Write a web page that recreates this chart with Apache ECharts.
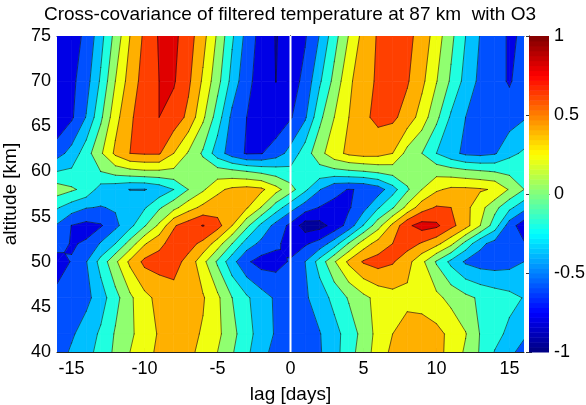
<!DOCTYPE html>
<html><head><meta charset="utf-8">
<style>html,body{margin:0;padding:0;background:#fff}#c{width:586px;height:405px}</style>
<script src="https://cdn.jsdelivr.net/npm/echarts@6/dist/echarts.min.js"></script>
</head><body><div id="c"></div>
<script>
const titleText = 'Cross-covariance of filtered temperature at 87 km  with O3';
const lags = [-16,-15,-14,-13,-12,-11,-10,-9,-8,-7,-6,-5,-4,-3,-2,-1,0,1,2,3,4,5,6,7,8,9,10,11,12,13,14,15,16];
const altitudes = [40,42,46,50,52,54,56,58,60,62,66,70,75];
const z40 = [-.5,-.37,-.27,-.13,.04,.2,.33,.44,.5,.45,.34,.2,.02,-.16,-.33,-.47,-.5,-.46,-.42,-.27,-.09,.11,.28,.45,.5,.52,.47,.33,.17,-.02,-.21,-.34,-.49];
const z42 = [-.5,-.43,-.3,-.17,.02,.16,.3,.42,.5,.46,.38,.25,.06,-.12,-.3,-.42,-.48,-.45,-.41,-.27,-.11,.07,.27,.4,.48,.5,.46,.35,.21,-.01,-.13,-.25,-.36];
const z46 = [-.55,-.5,-.46,-.29,-.07,.16,.34,.46,.53,.52,.42,.24,.001,-.17,-.31,-.43,-.49,-.43,-.3,-.14,.02,.15,.26,.33,.35,.32,.25,.14,.05,-.03,-.09,-.14,-.21];
const z50 = [-.68,-.59,-.41,-.13,.16,.44,.65,.68,.67,.54,.26,-.03,-.33,-.57,-.68,-.67,-.58,-.4,-.12,.18,.44,.62,.68,.62,.47,.25,-.02,-.25,-.43,-.49,-.5,-.47,-.4];
const z52 = [-.52,-.615,-.58,-.38,-.2,.08,.38,.55,.68,.67,.55,.3,.001,-.3,-.45,-.56,-.68,-.63,-.52,-.3,.02,.3,.48,.6,.69,.58,.46,.25,-.07,-.35,-.47,-.52,-.58];
const z54 = [-.42,-.605,-.66,-.62,-.45,-.26,-.02,.24,.58,.7,.81,.68,.4,.05,-.25,-.47,-.65,-.9,-.87,-.73,-.52,-.19,.12,.45,.76,.88,.84,.66,.48,.2,-.1,-.5,-.72];
const z56 = [-.18,-.3,-.39,-.41,-.38,-.3,-.22,-.03,.14,.32,.45,.5,.52,.42,.19,-.1,-.32,-.5,-.61,-.63,-.62,-.47,-.22,-.02,.26,.51,.62,.6,.46,.27,.06,-.15,-.33];
const z58 = [.1,.03,-.06,-.29,-.34,-.405,-.41,-.33,-.2,.001,.17,.36,.44,.47,.44,.27,.08,-.16,-.39,-.57,-.605,-.59,-.5,-.28,-.03,.2,.37,.44,.44,.42,.38,.18,.001];
const z60 = [-.2,-.17,-.1,.001,.09,.14,.17,.17,.16,.15,.12,.08,.05,.001,-.05,-.1,-.15,-.11,-.08,-.06,-.03,-.005,.04,.08,.13,.15,.13,.09,.05,.02,-.01,-.05,-.08];
const z62 = [-.48,-.33,-.09,.17,.44,.6,.62,.62,.4,.18,-.03,-.3,-.5,-.62,-.61,-.5,-.33,-.1,.13,.33,.44,.48,.47,.4,.13,.001,-.2,-.34,-.44,-.46,-.42,-.25,-.17];
const z66 = [-.78,-.63,-.39,-.04,.33,.57,.7,.8,.72,.55,.24,-.1,-.45,-.6,-.7,-.74,-.62,-.43,-.05,.2,.4,.56,.65,.64,.52,.31,.05,-.23,-.4,-.47,-.52,-.5,-.42];
const z70 = [-.72,-.65,-.48,-.17,.2,.49,.68,.8,.82,.64,.37,.07,-.27,-.55,-.68,-.802,-.7,-.54,-.23,.06,.36,.52,.63,.67,.62,.45,.21,-.03,-.27,-.45,-.53,-.62,-.5];
const z75 = [-.75,-.68,-.56,-.27,.07,.4,.64,.82,.85,.69,.47,.17,-.17,-.47,-.68,-.81,-.72,-.62,-.39,-.08,.21,.47,.62,.7,.65,.53,.3,.05,-.2,-.41,-.53,-.62,-.58];
const rows = [z40,z42,z46,z50,z52,z54,z56,z58,z60,z62,z66,z70,z75];
const levels = [-1,-.8,-.6,-.4,-.2,0,.2,.4,.6,.8,1];
const bandColors = ['#00009c','#0000e6','#0050ff','#00c0ff','#20ffe0','#90ff70','#f0ff10','#ffb000','#ff4000','#e00000'];
const lagTicks = [-15,-10,-5,0,5,10,15];
const barTicks = [-1,-.5,0,.5,1];

function jet(t){
  const c=x=>Math.round(255*Math.max(0,Math.min(1,x)));
  return 'rgb('+c(1.5-Math.abs(4*t-3))+','+c(1.5-Math.abs(4*t-2))+','+c(1.5-Math.abs(4*t-1))+')';
}
const barCells=[];
for(let i=0;i<64;i++){barCells.push([-1+i/32,-1+(i+1)/32,jet((i+.5)/64)]);}

const cells=[];
for(let j=0;j<altitudes.length-1;j++)for(let i=0;i<lags.length-1;i++)cells.push([i,j]);

function cellPolys(i,j){
  const q=[[lags[i],altitudes[j],rows[j][i]],[lags[i+1],altitudes[j],rows[j][i+1]],
           [lags[i+1],altitudes[j+1],rows[j+1][i+1]],[lags[i],altitudes[j+1],rows[j+1][i]]];
  let saddle=false;
  for(const l of levels){
    const s=q.map(p=>p[2]>=l);
    if(s[0]===s[2]&&s[1]===s[3]&&s[0]!==s[1])saddle=true;
  }
  if(!saddle)return [q];
  const m=[(q[0][0]+q[1][0])/2,(q[0][1]+q[3][1])/2,(q[0][2]+q[1][2]+q[2][2]+q[3][2])/4];
  return [[q[0],q[1],m],[q[1],q[2],m],[q[2],q[3],m],[q[3],q[0],m]];
}
function cross(a,b,l){const t=(l-a[2])/(b[2]-a[2]);return [a[0]+t*(b[0]-a[0]),a[1]+t*(b[1]-a[1]),l];}
function clip(poly,l,keepAbove){
  const out=[];
  for(let k=0;k<poly.length;k++){
    const a=poly[k],b=poly[(k+1)%poly.length];
    const ia=keepAbove?a[2]>=l:a[2]<=l, ib=keepAbove?b[2]>=l:b[2]<=l;
    if(ia)out.push(a);
    if(ia!==ib)out.push(cross(a,b,l));
  }
  return out;
}
function fillItem(params,api){
  const ch=[];
  for(const q of cellPolys(api.value(0),api.value(1))){
    for(let b=0;b<bandColors.length;b++){
      let p=clip(q,levels[b],true);
      if(p.length>2)p=clip(p,levels[b+1],false);
      if(p.length>2)ch.push({type:'polygon',shape:{points:p.map(v=>api.coord([v[0],v[1]]))},
        style:{fill:bandColors[b],stroke:bandColors[b],lineWidth:.7}});
    }
  }
  return {type:'group',children:ch};
}
function lineItem(params,api){
  const ch=[];
  for(const q of cellPolys(api.value(0),api.value(1))){
    for(let b=1;b<levels.length-1;b++){
      const l=levels[b],pts=[];
      for(let k=0;k<q.length;k++){
        const a=q[k],c=q[(k+1)%q.length];
        if((a[2]<l)!==(c[2]<l))pts.push(cross(a,c,l));
      }
      for(let k=0;k+1<pts.length;k+=2){
        const p=api.coord([pts[k][0],pts[k][1]]),r=api.coord([pts[k+1][0],pts[k+1][1]]);
        ch.push({type:'line',shape:{x1:p[0],y1:p[1],x2:r[0],y2:r[1]},style:{stroke:'#101010',lineWidth:.6,lineCap:'round'}});
      }
    }
  }
  return {type:'group',children:ch};
}
const font='"Liberation Sans",Arial,sans-serif';
const lab={fontFamily:font,fontSize:18,color:'#000'};
const nameLab={fontFamily:font,fontSize:19,color:'#000'};
const line={lineStyle:{color:'#222',width:1}};
const chart=echarts.init(document.getElementById('c'),null,{renderer:'canvas'});
chart.setOption({
  animation:false,
  title:{text:titleText,left:285,top:0,textAlign:'center',textStyle:{fontFamily:font,fontSize:19,fontWeight:'normal',color:'#000'}},
  grid:[{left:57,width:467,top:36,height:316,outerBoundsMode:'none',containLabel:false},
        {left:529,width:20,top:36,height:316,outerBoundsMode:'none',containLabel:false}],
  xAxis:[
    {type:'value',gridIndex:0,min:-16,max:16,position:'bottom',splitLine:{show:false},axisLine:line,
     axisTick:{inside:true,length:4,customValues:lagTicks,lineStyle:{color:'#222'}},
     axisLabel:{...lab,margin:8,customValues:lagTicks,formatter:v=>String(v)},
     name:'lag [days]',nameLocation:'middle',nameGap:33,nameTextStyle:nameLab},
    {type:'value',gridIndex:0,min:-16,max:16,position:'top',splitLine:{show:false},axisLine:line,
     axisTick:{inside:true,length:4,customValues:lagTicks,lineStyle:{color:'#222'}},axisLabel:{show:false}},
    {type:'value',gridIndex:1,min:0,max:1,position:'bottom',show:true,splitLine:{show:false},axisLine:{lineStyle:{color:'#555'}},axisTick:{show:false},axisLabel:{show:false}},
    {type:'value',gridIndex:1,min:0,max:1,position:'top',show:true,splitLine:{show:false},axisLine:{lineStyle:{color:'#555'}},axisTick:{show:false},axisLabel:{show:false}}
  ],
  yAxis:[
    {type:'value',gridIndex:0,min:40,max:75,interval:5,position:'left',splitLine:{show:false},axisLine:line,
     axisTick:{inside:true,length:4,lineStyle:{color:'#222'}},axisLabel:{...lab,margin:6},
     name:'altitude [km]',nameLocation:'middle',nameGap:24,nameRotate:90,nameTextStyle:nameLab},
    {type:'value',gridIndex:0,min:40,max:75,interval:5,position:'right',splitLine:{show:false},axisLine:line,
     axisTick:{inside:true,length:4,lineStyle:{color:'#222'}},axisLabel:{show:false}},
    {type:'value',gridIndex:1,min:-1,max:1,position:'right',splitLine:{show:false},axisLine:{lineStyle:{color:'#555'}},
     axisTick:{inside:true,length:3,customValues:barTicks,lineStyle:{color:'#333'}},
     axisLabel:{...lab,margin:5,customValues:barTicks,formatter:v=>String(v)}},
    {type:'value',gridIndex:1,min:-1,max:1,position:'left',splitLine:{show:false},axisLine:{lineStyle:{color:'#555'}},
     axisTick:{inside:true,length:3,customValues:barTicks,lineStyle:{color:'#333'}},axisLabel:{show:false}}
  ],
  series:[
    {type:'custom',xAxisIndex:0,yAxisIndex:0,z:1,clip:true,silent:true,data:cells,renderItem:fillItem},
    {type:'custom',xAxisIndex:0,yAxisIndex:0,z:2,clip:true,silent:true,data:cells,renderItem:lineItem},
    {type:'line',xAxisIndex:0,yAxisIndex:0,z:3,symbol:'none',silent:true,data:[[0,40],[0,75]],lineStyle:{color:'#fff',width:2}},
    {type:'custom',xAxisIndex:2,yAxisIndex:2,z:1,silent:true,data:barCells.map(c=>[c[0],c[1]]),
     renderItem:(p,api)=>{
       const a=api.coord([0,api.value(0)]),b=api.coord([1,api.value(1)]);
       return {type:'rect',shape:{x:a[0],y:b[1],width:b[0]-a[0],height:a[1]-b[1]+.5},style:{fill:barCells[p.dataIndex][2]}};
     }}
  ]
});
</script></body></html>
